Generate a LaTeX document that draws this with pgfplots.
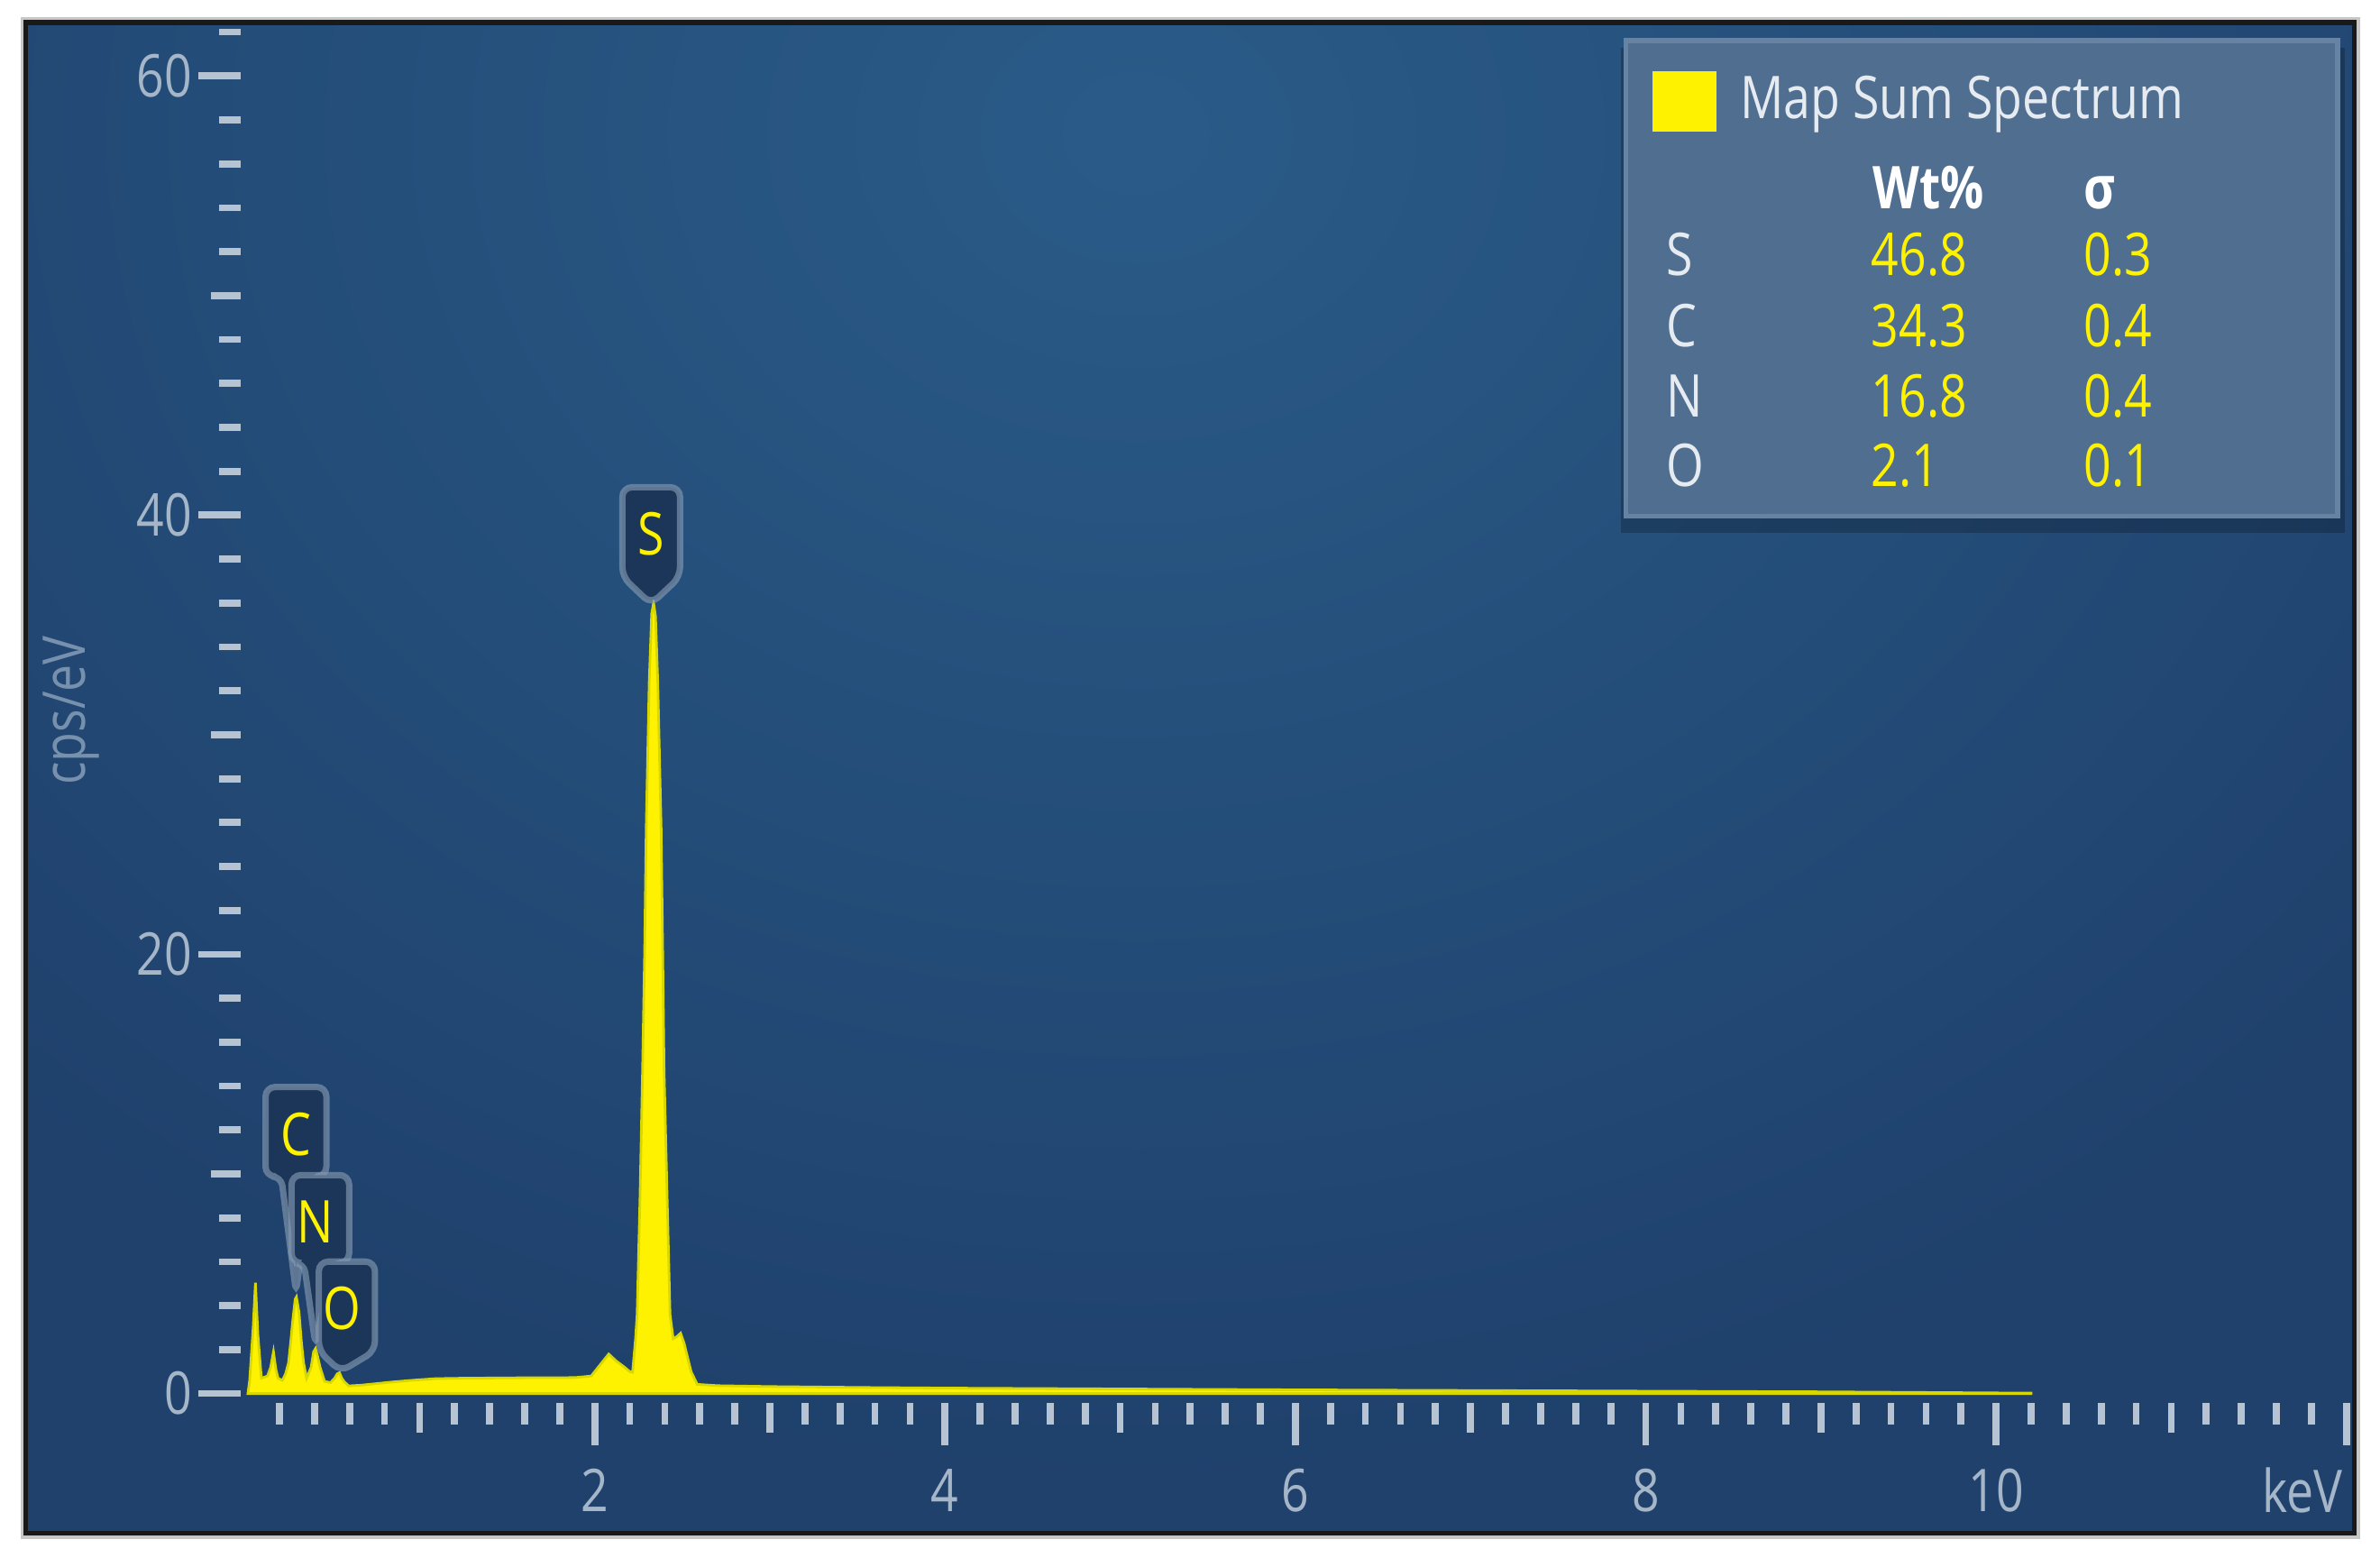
\documentclass[border=0pt]{standalone}
\usepackage{fontspec}
\setmainfont{Open Sans}[FakeStretch=0.82]
\usepackage{pgfplots}
\pgfplotsset{compat=1.18}

\definecolor{bgdark}{HTML}{1F416C}
\definecolor{bglight}{HTML}{2A5B88}
\definecolor{tickcol}{HTML}{B5C3D3}
\definecolor{ticklab}{HTML}{A6B6C9}
\definecolor{ylab}{HTML}{7790AE}
\definecolor{legfill}{HTML}{4F6E90}
\definecolor{legedge}{HTML}{6783A3}
\definecolor{legtext}{HTML}{E6EBF1}
\definecolor{pkfill}{HTML}{1B3659}
\definecolor{pkedge}{HTML}{8499B2}
\definecolor{specedge}{HTML}{D8D800}

\newcommand\tkfont{\fontsize{9.3}{11}\selectfont}
\newcommand\lgfont{\fontsize{9.3}{11}\selectfont}

\tikzset{pk/.style={fill=pkfill, draw=pkedge, draw opacity=0.65, line width=1pt, rounded corners=1.5pt}}

\begin{document}
\begin{tikzpicture}
% page and instrument frame
\fill[white] (0,0) rectangle (13.2,8.64);
\fill[black!22] (0.115,0.105) rectangle (13.09,8.545);
\begin{scope}
  \clip (0.1431,0.1373) rectangle (13.057,8.5137);
  \fill[bgdark] (0.1431,0.1373) rectangle (13.057,8.5137);
  \shade[inner color=bglight, outer color=bgdark] (6.3,7.9) ellipse (9 and 7.5);
\end{scope}
\draw[black!90, line width=0.8pt] (0.1431,0.1373) rectangle (13.057,8.5137);

\begin{axis}[
  at={(1.3360cm,0.8613cm)}, anchor=south west,
  x=0.97149cm, y=0.121774cm,
  xmin=-0.02, xmax=12.045, ymin=-0.415, ymax=62.43,
  axis line style={draw=none},
  tick pos=left, tick align=outside,
  xtick={2,4,6,8,10,12}, xticklabels={2,4,6,8,10,{}},
  ytick={0,20,40,60},
  minor xtick={0.2,0.4,...,11.8},
  minor ytick={2,4,...,62},
  extra x ticks={1,3,5,7,9,11}, extra x tick labels={},
  extra y ticks={10,30,50}, extra y tick labels={},
  extra x tick style={major tick length=0.165cm},
  extra y tick style={major tick length=0.165cm},
  major tick length=0.235cm, minor tick length=0.12cm,
  tick style={draw=tickcol, line width=1.1pt},
  ticklabel style={font=\tkfont, text=ticklab, inner sep=0pt},
  xticklabel shift=0.127cm,
  yticklabel shift=0.03cm,
  /pgf/number format/assume math mode=true,
  xlabel={keV},
  xlabel style={at={(axis cs:11.75,-4.42)}, anchor=center, font=\tkfont, text=ticklab, inner sep=0pt},
  ylabel={cps/eV},
  ylabel style={at={(axis cs:-0.988,31.1)}, anchor=center, font=\tkfont, text=ylab, inner sep=0pt},
  legend style={at={(axis cs:8.033,58.83)}, anchor=west, draw=none, fill=none,
    inner sep=0pt, font=\lgfont, text=legtext, nodes={inner sep=0pt}},
  legend cell align=left,
]
\addplot[draw=specedge, line width=0.4pt, fill=yellow,
  legend image code/.code={\fill[yellow] (0cm,-0.16cm) rectangle (0.337cm,0.16cm);
    \path (0.47cm,0cm);}]
coordinates {
(0.02,0) (0.03,0.6) (0.05,3.0) (0.063,5.05) (0.077,2.7) (0.097,0.7)
(0.132,0.8) (0.150,1.2) (0.166,1.9) (0.180,1.1) (0.192,0.7) (0.217,0.6)
(0.235,0.9) (0.252,1.4) (0.265,2.4) (0.277,3.4) (0.290,4.3) (0.297,4.4)
(0.312,3.7) (0.325,2.4) (0.338,1.4) (0.355,0.7) (0.381,1.2) (0.395,1.9)
(0.406,2.05) (0.418,1.7) (0.432,1.2) (0.458,0.55) (0.492,0.5) (0.515,0.7)
(0.530,0.9) (0.543,0.95) (0.556,0.7) (0.569,0.55) (0.595,0.35) (0.664,0.38)
(0.75,0.45) (0.835,0.52) (0.95,0.6) (1.092,0.68) (1.25,0.70) (1.436,0.71)
(1.6,0.72) (1.75,0.72) (1.89,0.73) (1.98,0.8) (2.03,1.3) (2.08,1.8)
(2.12,1.5) (2.17,1.2) (2.20,1.0) (2.216,0.97) (2.233,2.5) (2.242,3.6)
(2.259,9.1) (2.273,14.7) (2.285,20.2) (2.294,25.8) (2.311,32.4) (2.325,35.5)
(2.336,36.0) (2.347,35.4) (2.360,32.4) (2.379,25.8) (2.388,20.2) (2.396,14.7)
(2.413,9.1) (2.430,3.6) (2.448,2.5) (2.47,2.6) (2.49,2.75) (2.51,2.3)
(2.55,1.0) (2.585,0.42) (2.7,0.36) (3.0,0.32) (3.5,0.28) (4.0,0.25)
(5.0,0.21) (6.0,0.17) (7.0,0.14) (8.0,0.11) (9.0,0.08) (9.6,0.05) (10.2,0.02)
} \closedcycle;
\addlegendentry{Map Sum Spectrum}

% peak labels
\draw[pk] (axis cs:2.158,37.19) -- (axis cs:2.158,41.27) -- (axis cs:2.487,41.27)
  -- (axis cs:2.487,37.19) -- (axis cs:2.322,35.95) -- cycle;
\node[text=yellow, font=\tkfont, inner sep=0pt] at (axis cs:2.322,39.13) {S};
\draw[pk] (axis cs:0.121,9.89) -- (axis cs:0.121,13.96) -- (axis cs:0.468,13.96)
  -- (axis cs:0.468,9.89) -- (axis cs:0.38,9.89) -- (axis cs:0.295,4.6)
  -- (axis cs:0.21,9.89) -- cycle;
\node[text=yellow, font=\tkfont, inner sep=0pt] at (axis cs:0.295,11.82) {C};
\draw[pk] (axis cs:0.269,5.95) -- (axis cs:0.269,9.95) -- (axis cs:0.598,9.95)
  -- (axis cs:0.598,5.95) -- (axis cs:0.50,5.95) -- (axis cs:0.406,2.2)
  -- (axis cs:0.34,5.95) -- cycle;
\node[text=yellow, font=\tkfont, inner sep=0pt] at (axis cs:0.407,7.81) {N};
\draw[pk] (axis cs:0.425,1.94) -- (axis cs:0.425,6.01) -- (axis cs:0.745,6.01)
  -- (axis cs:0.745,1.94) -- (axis cs:0.55,1.0) -- cycle;
\node[text=yellow, font=\tkfont, inner sep=0pt] at (axis cs:0.555,3.87) {O};

% result table box
\fill[black, opacity=0.22] (axis cs:7.86,61.3) rectangle (axis cs:11.99,39.2);
\fill[legfill, draw=legedge, line width=0.8pt] (axis cs:7.886,61.60) rectangle (axis cs:11.950,39.96);
\begin{scope}[every node/.style={anchor=base west, inner sep=0pt, font=\lgfont}]
\node[text=white] at (axis cs:9.289,53.95) {\textbf{Wt\%}};
\node[text=white] at (axis cs:10.494,53.95) {\textbf{σ}};
\node[text=legtext] at (axis cs:8.111,50.93) {S};
\node[text=legtext] at (axis cs:8.111,47.66) {C};
\node[text=legtext] at (axis cs:8.111,44.48) {N};
\node[text=legtext] at (axis cs:8.111,41.30) {O};
\node[text=yellow] at (axis cs:9.281,50.93) {46.8};
\node[text=yellow] at (axis cs:9.281,47.66) {34.3};
\node[text=yellow] at (axis cs:9.281,44.48) {16.8};
\node[text=yellow] at (axis cs:9.281,41.30) {2.1};
\node[text=yellow] at (axis cs:10.494,50.93) {0.3};
\node[text=yellow] at (axis cs:10.494,47.66) {0.4};
\node[text=yellow] at (axis cs:10.494,44.48) {0.4};
\node[text=yellow] at (axis cs:10.494,41.30) {0.1};
\end{scope}
\end{axis}
\end{tikzpicture}
\end{document}
